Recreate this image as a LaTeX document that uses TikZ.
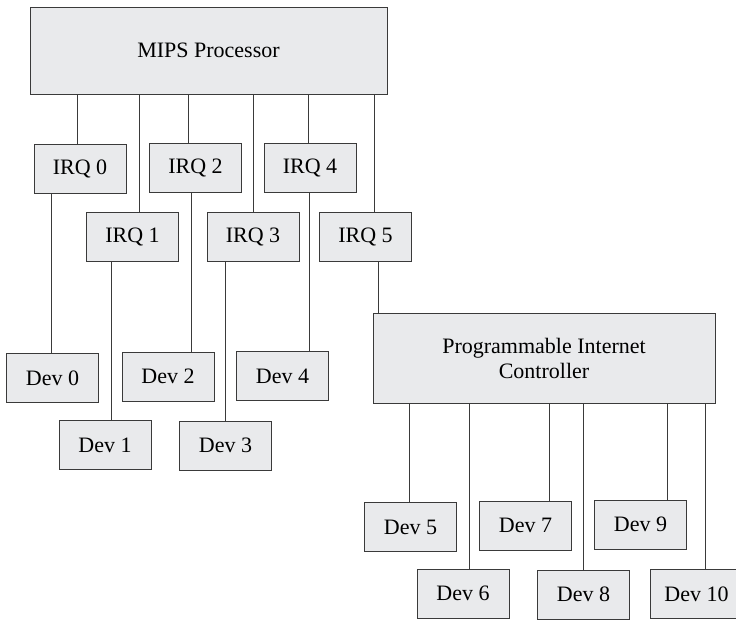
\documentclass[tikz,border=0pt]{standalone}
\usepackage{fontspec}
\setmainfont{Liberation Serif}
\definecolor{boxfill}{HTML}{E9EAEC}
\definecolor{boxline}{HTML}{3A3A3A}
\tikzset{
  unit/.style={draw=boxline, fill=boxfill, line width=1pt, minimum width=92pt, minimum height=49pt, inner sep=0pt, font=\fontsize{22}{25}\selectfont},
  wire/.style={draw=boxline, line width=1pt}
}
\begin{document}
\begin{tikzpicture}[x=1pt, y=-1pt]
    \useasboundingbox (0,0) rectangle (736,619);

    \node[unit, minimum width=357pt, minimum height=87pt] (mips) at (208.5,50.5) {MIPS Processor};

    \node[unit] (irq0) at (80,169) {IRQ 0};
    \node[unit] (irq2) at (195.5,167.5) {IRQ 2};
    \node[unit] (irq4) at (310,167.5) {IRQ 4};
    \node[unit] (irq1) at (132.5,236.5) {IRQ 1};
    \node[unit] (irq3) at (253,236.5) {IRQ 3};
    \node[unit] (irq5) at (365.5,236.5) {IRQ 5};

    \node[unit] (dev0) at (52.5,378) {Dev 0};
    \node[unit] (dev2) at (168,376.5) {Dev 2};
    \node[unit] (dev4) at (282.5,376) {Dev 4};
    \node[unit] (dev1) at (105,445) {Dev 1};
    \node[unit] (dev3) at (225.5,445.5) {Dev 3};

    \node[unit, minimum width=342pt, minimum height=90pt, align=center] (pic) at (544,358) {Programmable Internet\\Controller};

    \node[unit] (dev5) at (410.5,527) {Dev 5};
    \node[unit] (dev7) at (525.5,525.5) {Dev 7};
    \node[unit] (dev9) at (640.5,524.5) {Dev 9};
    \node[unit] (dev6) at (463,593.5) {Dev 6};
    \node[unit] (dev8) at (583.5,594.5) {Dev 8};
    \node[unit] (dev10) at (696.5,594) {Dev 10};

    % processor to interrupt lines
    \draw[wire] ([xshift=-3pt]irq0.north) -- ([xshift=-3pt]irq0.north |- mips.south);
    \draw[wire] ([xshift=6.5pt]irq1.north) -- ([xshift=6.5pt]irq1.north |- mips.south);
    \draw[wire] ([xshift=-7.5pt]irq2.north) -- ([xshift=-7.5pt]irq2.north |- mips.south);
    \draw[wire] (irq3.north) -- (irq3.north |- mips.south);
    \draw[wire] ([xshift=-2pt]irq4.north) -- ([xshift=-2pt]irq4.north |- mips.south);
    \draw[wire] ([xshift=8.5pt]irq5.north) -- ([xshift=8.5pt]irq5.north |- mips.south);

    % interrupt lines to devices
    \draw[wire] ([xshift=-1.5pt]dev0.north) -- ([xshift=-1.5pt]dev0.north |- irq0.south);
    \draw[wire] ([xshift=6pt]dev1.north) -- ([xshift=6pt]dev1.north |- irq1.south);
    \draw[wire] ([xshift=23pt]dev2.north) -- ([xshift=23pt]dev2.north |- irq2.south);
    \draw[wire] (dev3.north) -- (dev3.north |- irq3.south);
    \draw[wire] ([xshift=26.5pt]dev4.north) -- ([xshift=26.5pt]dev4.north |- irq4.south);
    \draw[wire] ([xshift=12.5pt]irq5.south) -- ([xshift=12.5pt]irq5.south |- pic.north);

    % controller to devices
    \draw[wire] ([xshift=-1.5pt]dev5.north) -- ([xshift=-1.5pt]dev5.north |- pic.south);
    \draw[wire] ([xshift=6pt]dev6.north) -- ([xshift=6pt]dev6.north |- pic.south);
    \draw[wire] ([xshift=23.5pt]dev7.north) -- ([xshift=23.5pt]dev7.north |- pic.south);
    \draw[wire] (dev8.north) -- (dev8.north |- pic.south);
    \draw[wire] ([xshift=26.5pt]dev9.north) -- ([xshift=26.5pt]dev9.north |- pic.south);
    \draw[wire] ([xshift=8.5pt]dev10.north) -- ([xshift=8.5pt]dev10.north |- pic.south);
\end{tikzpicture}
\end{document}
